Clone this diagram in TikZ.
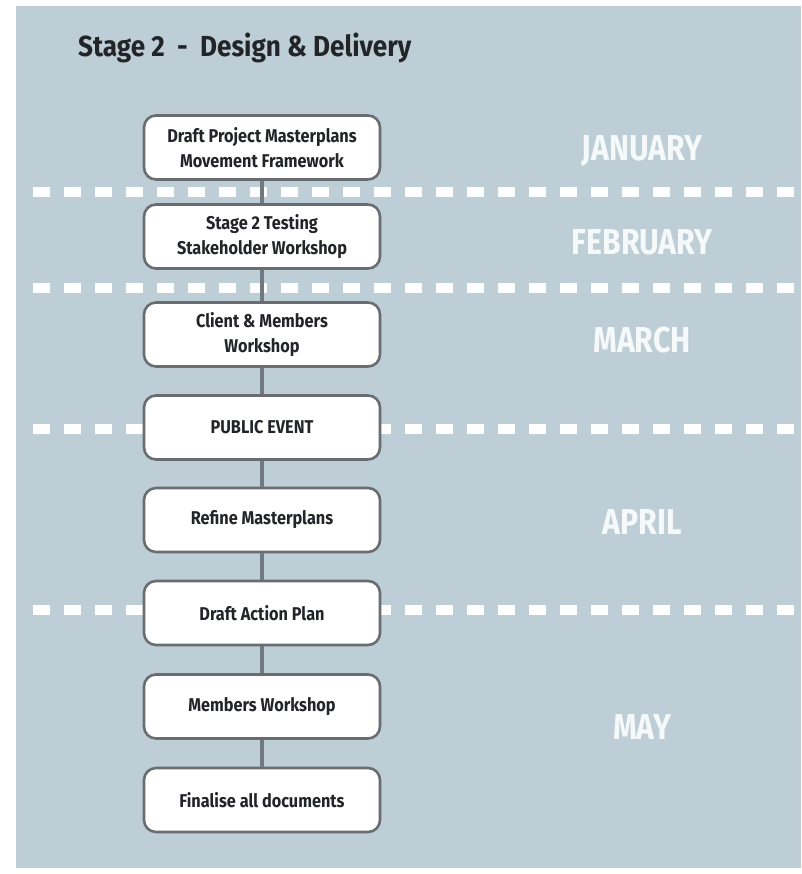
\documentclass[tikz,border=0pt]{standalone}
\usepackage{fontspec}
\newfontfamily\condfont[FakeStretch=0.88]{Fira Sans}
\newfontfamily\titlefont[FakeStretch=0.9]{Fira Sans}
\newfontfamily\monthfont[FakeStretch=0.84]{Fira Sans}
\definecolor{bgblue}{HTML}{BDCED7}
\definecolor{boxline}{HTML}{6A6D70}
\definecolor{connline}{HTML}{6F797F}
\definecolor{txtdark}{HTML}{222428}
\definecolor{monthwhite}{HTML}{F6F9FA}
\tikzset{
  stagebox/.style={draw=boxline, line width=2.6pt, fill=white, rounded corners=12pt,
    minimum width=236pt, minimum height=64pt, align=center, text=txtdark,
    font=\condfont\bfseries\fontsize{18.5}{25}\selectfont, inner sep=2pt},
  conn/.style={draw=connline, line width=4pt},
  monthdash/.style={draw=white, line width=10pt, dash pattern=on 17pt off 14pt, dash phase=17pt},
  monthlabel/.style={text=monthwhite, font=\monthfont\bfseries\fontsize{36}{40}\selectfont, inner sep=0pt},
  titlelabel/.style={text=txtdark, font=\titlefont\bfseries\fontsize{29}{32}\selectfont, inner sep=0pt, anchor=base west}
}
\begin{document}
\begin{tikzpicture}[x=1pt,y=-1pt]
\useasboundingbox (0,0) rectangle (801,874);
\fill[white] (0,0) rectangle (801,874);
\fill[bgblue] (16,6) rectangle (801,868);
% dashed month separators
\coordinate (d1a) at (19,192); \coordinate (d1b) at (801,192);
\coordinate (d2a) at (19,288); \coordinate (d2b) at (801,288);
\coordinate (d3a) at (19,429); \coordinate (d3b) at (801,429);
\coordinate (d4a) at (19,610); \coordinate (d4b) at (801,610);
\draw[monthdash] (d1a) -- (d1b);
\draw[monthdash] (d2a) -- (d2b);
\draw[monthdash] (d3a) -- (d3b);
\draw[monthdash] (d4a) -- (d4b);
% title
\node[titlelabel] (title) at (78,57) {Stage 2\ \ -\ \ Design \& Delivery};
% boxes
\node[stagebox] (b1) at (262,147.5) {Draft Project Masterplans\\Movement Framework};
\node[stagebox] (b2) at (262,236.5) {Stage 2 Testing\\Stakeholder Workshop};
\node[stagebox] (b3) at (262,334.5) {Client \& Members\\Workshop};
\node[stagebox] (b4) at (262,427.5) {PUBLIC EVENT};
\node[stagebox] (b5) at (262,520) {Refine Masterplans};
\node[stagebox] (b6) at (262,613) {Draft Action Plan};
\node[stagebox] (b7) at (262,706.5) {Members Workshop};
\node[stagebox] (b8) at (262,800) {Finalise all documents};
% connectors
\draw[conn] (b1.south) -- (b2.north);
\draw[conn] (b2.south) -- (b3.north);
\draw[conn] (b3.south) -- (b4.north);
\draw[conn] (b4.south) -- (b5.north);
\draw[conn] (b5.south) -- (b6.north);
\draw[conn] (b6.south) -- (b7.north);
\draw[conn] (b7.south) -- (b8.north);
% months
\node[monthlabel] (jan) at (642,151) {JANUARY};
\node[monthlabel] (feb) at (642,242) {FEBRUARY};
\node[monthlabel] (mar) at (642,340) {MARCH};
\node[monthlabel] (apr) at (642,522) {APRIL};
\node[monthlabel] (may) at (642,727) {MAY};
\end{tikzpicture}
\end{document}
